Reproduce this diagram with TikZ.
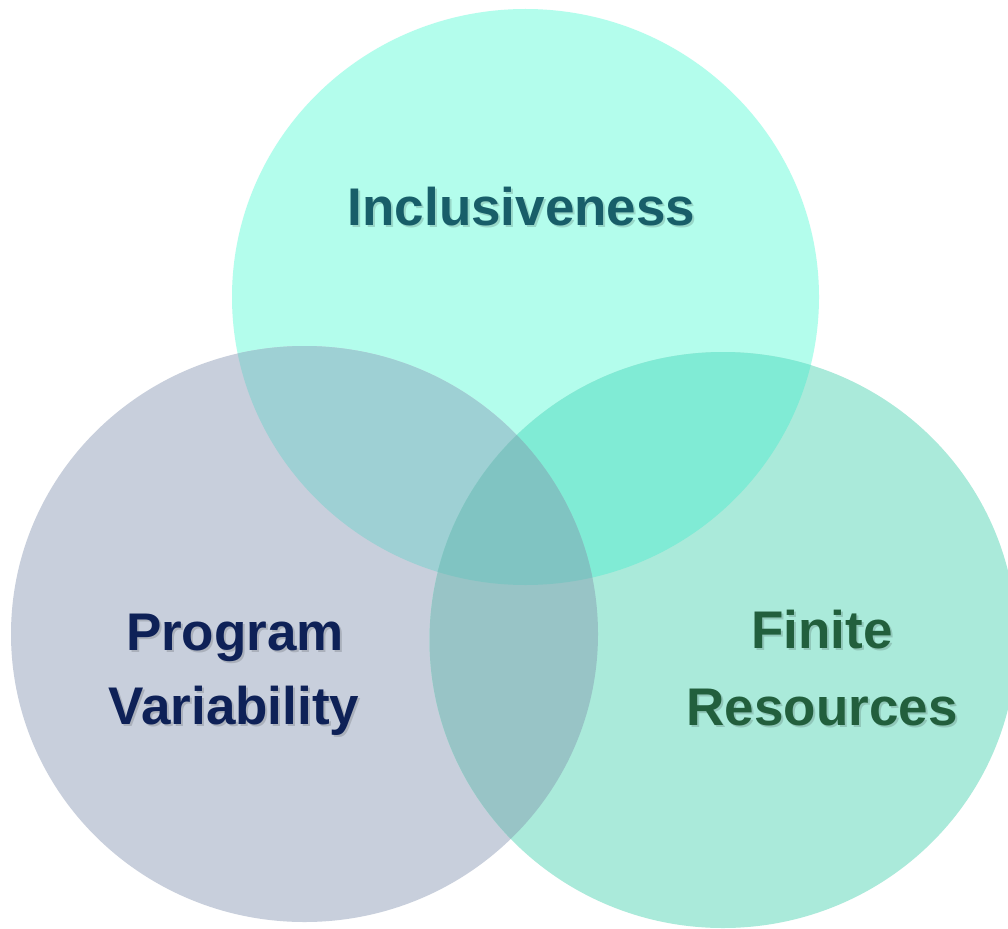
\documentclass[tikz,border=0pt]{standalone}
\usepackage{fontspec}
\setmainfont{Liberation Sans}
\definecolor{ctop}{HTML}{B3FDEC}
\definecolor{cleft}{HTML}{C8CFDC}
\definecolor{cright}{HTML}{AAEADA}
\definecolor{ctl}{HTML}{9ED0D4}
\definecolor{ctr}{HTML}{80EBD5}
\definecolor{clr}{HTML}{98C4C6}
\definecolor{call}{HTML}{80C4C2}
\definecolor{tteal}{HTML}{185E69}
\definecolor{tnavy}{HTML}{0E2157}
\definecolor{tgreen}{HTML}{225F3D}
\begin{document}
\begin{tikzpicture}[x=1pt,y=-1pt,
  rr/.style={x radius=293.5pt, y radius=288pt},
  lbl/.style={anchor=base, inner sep=0pt, font=\fontsize{53}{64}\selectfont\bfseries},
  shd/.style={lbl, text=black, opacity=0.15}]
\fill[white] (0,0) rectangle (1008,928);
\useasboundingbox (0,0) rectangle (1008,928);
\coordinate (T) at (525.5,297);
\coordinate (L) at (304.5,634);
\coordinate (R) at (723,640);
% base circles
\fill[ctop] (T) circle[rr];
\fill[cleft] (L) circle[rr];
\fill[cright] (R) circle[rr];
% pairwise overlaps
\begin{scope}\clip (T) circle[rr]; \fill[ctl] (L) circle[rr];\end{scope}
\begin{scope}\clip (T) circle[rr]; \fill[ctr] (R) circle[rr];\end{scope}
\begin{scope}\clip (L) circle[rr]; \fill[clr] (R) circle[rr];\end{scope}
% triple overlap
\begin{scope}\clip (T) circle[rr]; \clip (L) circle[rr]; \fill[call] (R) circle[rr];\end{scope}
% shadows
\node[shd] (s1) at (523.5,227) {Inclusiveness};
\node[shd] (s2) at (237,652) {Program};
\node[shd] (s3) at (236,726) {Variability};
\node[shd] (s4) at (824,650) {Finite};
\node[shd] (s5) at (824,727) {Resources};
% labels
\node[lbl, text=tteal] (inc) at (521.5,225) {Inclusiveness};
\node[lbl, text=tnavy] (prog) at (235,650) {Program};
\node[lbl, text=tnavy] (var) at (234,724) {Variability};
\node[lbl, text=tgreen] (fin) at (822,648) {Finite};
\node[lbl, text=tgreen] (res) at (822,725) {Resources};
\end{tikzpicture}
\end{document}
